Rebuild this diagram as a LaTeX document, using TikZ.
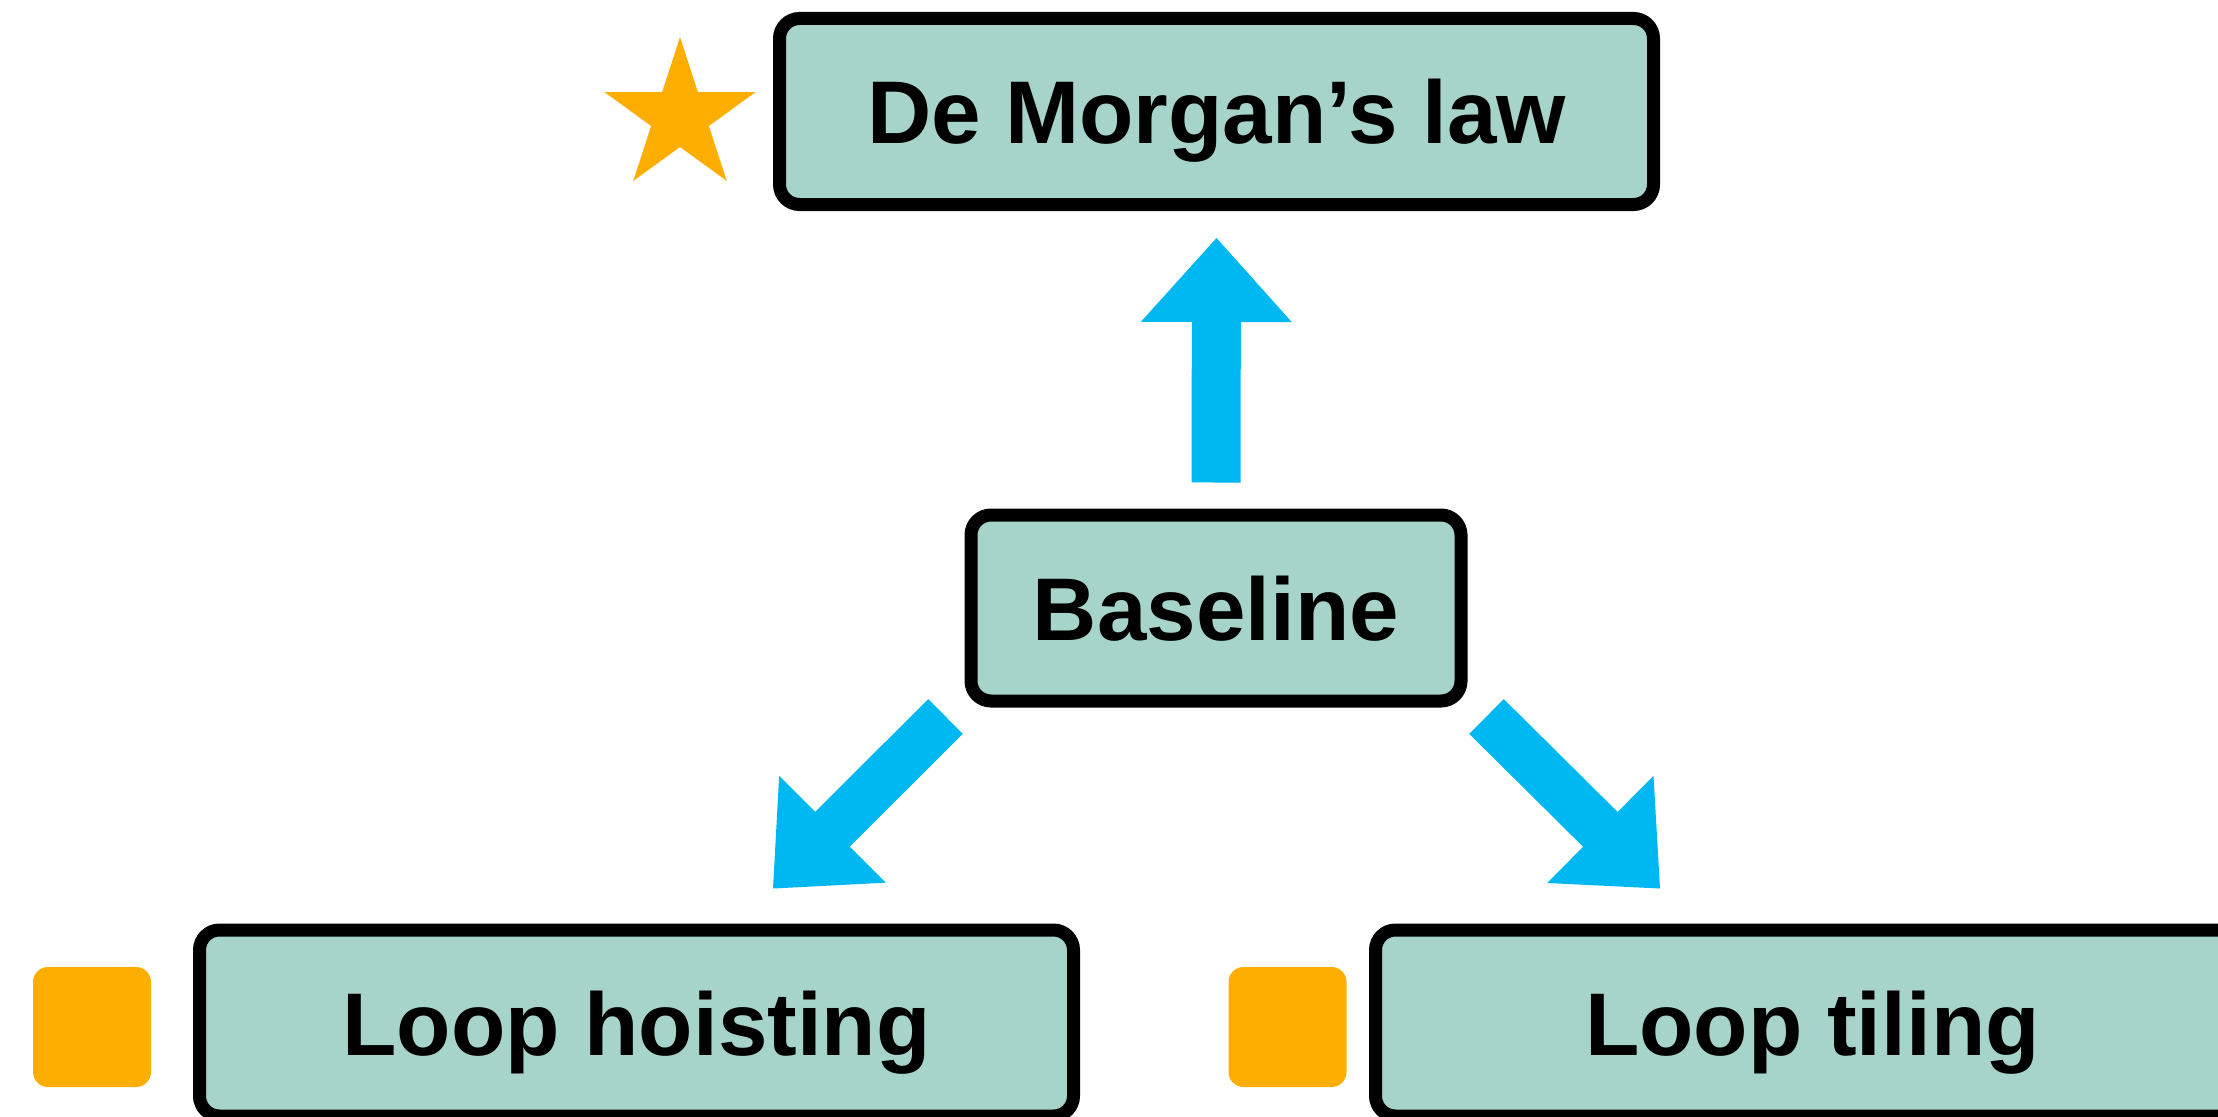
\documentclass[tikz,border=0pt]{standalone}
\usepackage{fontspec}
\setmainfont{Liberation Sans}
\usetikzlibrary{calc,shapes.geometric}

\definecolor{boxfill}{HTML}{A6D4CA}
\definecolor{arrowblue}{HTML}{00B8F1}
\definecolor{markorange}{HTML}{FEAE00}

% Broad block arrow from #1 (tail centre) to #2 (tip)
\newcommand\fatarrow[2]{%
  \coordinate (ab) at ($(#2)!84pt!(#1)$);
  \fill[arrowblue]
    ($(#1)!24.5pt!90:(#2)$) --
    ($(ab)!24.5pt!-90:(#1)$) --
    ($(ab)!75.5pt!-90:(#1)$) --
    (#2) --
    ($(ab)!75.5pt!90:(#1)$) --
    ($(ab)!24.5pt!90:(#1)$) --
    ($(#1)!24.5pt!-90:(#2)$) -- cycle;
}

\tikzset{
  box/.style={draw=black, line width=13pt, fill=boxfill, rounded corners=20pt,
    minimum height=186pt, inner sep=0pt, text height=64pt, text depth=0pt,
    font=\fontsize{89}{100}\selectfont\bfseries},
  marksq/.style={fill=markorange, minimum width=118pt, minimum height=120pt,
    rounded corners=15pt, inner sep=0pt},
}

\begin{document}
\begin{tikzpicture}[x=1pt, y=-1pt]
  \useasboundingbox (0,0) rectangle (2218,1116);
  \clip (0,0) rectangle (2218,1116);

  % boxes
  \node[box, minimum width=874pt] (dm)    at (1216.5,111.5) {De Morgan’s law};
  \node[box, minimum width=490pt] (base)  at (1216,608)     {Baseline};
  \node[box, minimum width=874pt] (hoist) at (636.5,1023)   {Loop hoisting};
  \node[box, minimum width=874pt] (tile)  at (1812.5,1023)  {Loop tiling};

  % markers
  \node[star, star points=5, star point ratio=2.618, minimum size=159pt,
        inner sep=0pt, fill=markorange] (mstar) at (680,116.6) {};
  \node[marksq] (mh) at (92,1027) {};
  \node[marksq] (mt) at (1287.5,1027) {};

  % arrow end points
  \coordinate (upS) at ($(base.north)+(0,-26)$);
  \coordinate (upE) at ($(dm.south)+(0,27)$);
  \coordinate (lS)  at ($(base.south west)+(-19,9)$);
  \coordinate (lE)  at ($(hoist.north)+(136.5,-35)$);
  \coordinate (rS)  at ($(base.south east)+(19,9)$);
  \coordinate (rE)  at ($(tile.north)+(-152.5,-35)$);

  \fatarrow{upS}{upE}
  \fatarrow{lS}{lE}
  \fatarrow{rS}{rE}
\end{tikzpicture}
\end{document}
